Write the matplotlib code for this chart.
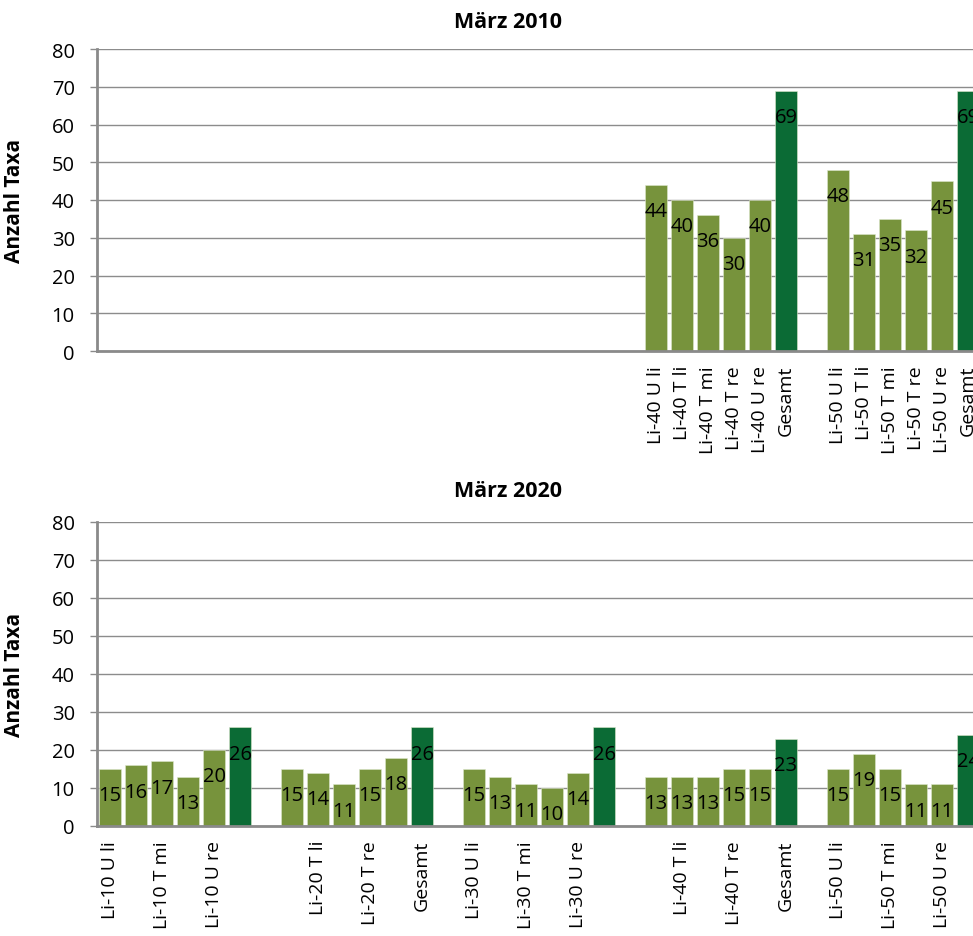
import numpy as np
import matplotlib
matplotlib.use("Agg")
import matplotlib.pyplot as plt

plt.rcParams['font.family'] = ['Open Sans', 'DejaVu Sans']

# Sampling sites per transect line, plus the combined total
groups = ["Li-10", "Li-20", "Li-30", "Li-40", "Li-50"]
sites = ["U li", "T li", "T mi", "T re", "U re", "Gesamt"]

# Number of taxa, March 2010 (only Li-40 and Li-50 were sampled)
taxa_2010 = {
    "Li-40": [44, 40, 36, 30, 40, 69],
    "Li-50": [48, 31, 35, 32, 45, 69],
}
# Number of taxa, March 2020
taxa_2020 = {
    "Li-10": [15, 16, 17, 13, 20, 26],
    "Li-20": [15, 14, 11, 15, 18, 26],
    "Li-30": [15, 13, 11, 10, 14, 26],
    "Li-40": [13, 13, 13, 15, 15, 23],
    "Li-50": [15, 19, 15, 11, 11, 24],
}

yticks = list(range(0, 81, 10))

LIGHT = "#77933C"
DARK = "#0B6B35"
GRID = "#8C8C8C"
AXIS = "#8A8A8A"
FS = 14.5


def build_categories(data):
    """Category labels, values and colours with an empty slot between groups."""
    labels, values, colors = [], [], []
    for gi, g in enumerate(groups):
        if gi > 0:
            labels.append("")
            values.append(np.nan)
            colors.append(LIGHT)
        for si, s in enumerate(sites):
            if g in data:
                labels.append(f"{g} {s}" if s != "Gesamt" else "Gesamt")
                values.append(data[g][si])
            else:
                labels.append("")
                values.append(np.nan)
            colors.append(DARK if s == "Gesamt" else LIGHT)
    return labels, np.array(values, dtype=float), colors


def draw_panel(ax, data, label_step):
    labels, values, colors = build_categories(data)
    x = np.arange(len(labels))
    ax.set_axisbelow(True)
    ax.yaxis.grid(True, color=GRID, linewidth=1.0)
    ax.bar(x, np.nan_to_num(values), width=0.84, color=colors,
           edgecolor="#DDE8CC", linewidth=0.4)
    for xi, v in zip(x, values):
        if not np.isnan(v):
            ax.annotate(f"{int(v)}", xy=(xi, v), xytext=(0, -19),
                        textcoords="offset points", ha="center", va="center",
                        fontsize=FS, color="black", annotation_clip=False)
    ax.set_xlim(-0.5, len(labels) - 0.5)
    ax.set_ylim(0, 80)
    ax.set_yticks(yticks)
    ax.tick_params(axis="y", direction="out", length=5, width=1.0,
                   color=AXIS, labelsize=FS, pad=11)
    shown = [lab if i % label_step == 0 else "" for i, lab in enumerate(labels)]
    ax.set_xticks(x)
    ax.set_xticklabels(shown, rotation=90, fontsize=14)
    ax.tick_params(axis="x", length=0, pad=10)
    for side in ("top", "right"):
        ax.spines[side].set_visible(False)
    for side in ("left", "bottom"):
        ax.spines[side].set_color(AXIS)
        ax.spines[side].set_linewidth(2.0)
    ax.set_ylabel("Anzahl Taxa", fontsize=15, fontweight="bold")
    ax.yaxis.set_label_coords(-0.081, 0.5)


W, H = 973, 937
fig = plt.figure(figsize=(W / 100, H / 100), dpi=100)
fig.patch.set_facecolor("white")

ax_top = fig.add_axes([97 / W, (H - 352) / H, 884 / W, 302 / H])
ax_bot = fig.add_axes([97 / W, (H - 827) / H, 884 / W, 304 / H])

draw_panel(ax_top, taxa_2010, 1)
draw_panel(ax_bot, taxa_2020, 2)

fig.text(508 / W, 1 - 22 / H, "März 2010", ha="center", va="center",
         fontsize=15.5, fontweight="bold")
fig.text(508 / W, 1 - 492 / H, "März 2020", ha="center", va="center",
         fontsize=15.5, fontweight="bold")

fig.savefig("out.png", dpi=100, facecolor="white")
